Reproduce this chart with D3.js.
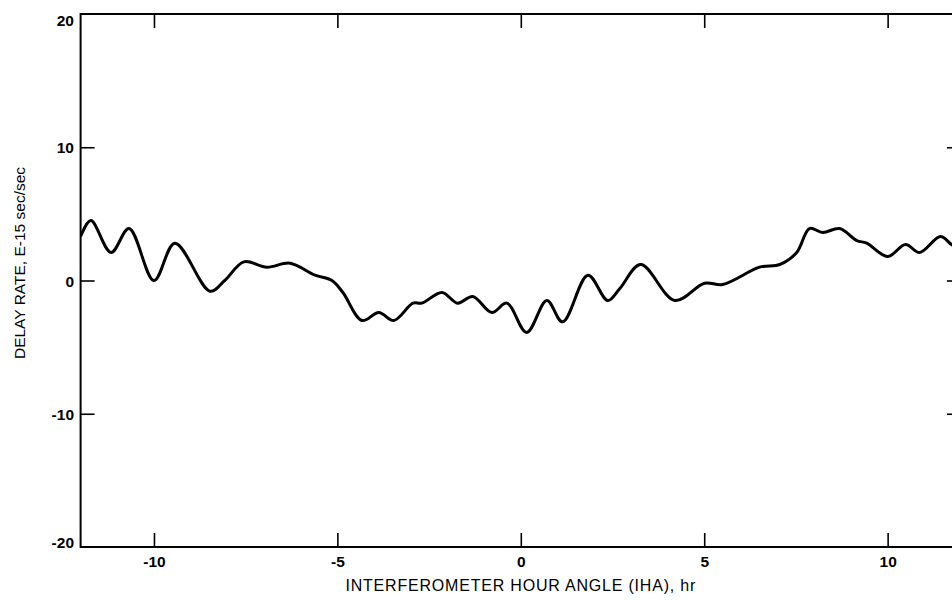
<!DOCTYPE html>
<html>
<head>
<meta charset="utf-8">
<script src="https://cdn.jsdelivr.net/npm/d3@7"></script>
<style>
  html, body { margin: 0; padding: 0; background: #fff; }
  svg { display: block; }
  text { font-family: "Liberation Sans", Arial, sans-serif; fill: #000; }
</style>
</head>
<body>
<svg id="chart" width="952" height="600"></svg>
<script>
// Interferometer hour angle (hr)
const hourAngle = [-12.0, -11.72, -11.17, -10.68, -10.0, -9.43, -8.47, -8.07, -7.55, -6.92, -6.29, -5.61,
  -5.15, -4.85, -4.33, -3.87, -3.46, -2.94, -2.70, -2.15, -1.72, -1.31, -0.79, -0.38,
  0.16, 0.71, 1.14, 1.83, 2.37, 2.70, 3.27, 4.20, 5.01, 5.50, 6.51, 7.06,
  7.52, 7.87, 8.23, 8.69, 9.16, 9.43, 10.0, 10.49, 10.87, 11.44, 11.74, 12.0];
// Delay rate (E-15 sec/sec)
const delayRate = [3.3, 4.5, 2.1, 3.9, 0.0, 2.8, -0.8, 0.0, 1.4, 1.0, 1.3, 0.4,
  0.0, -0.9, -3.0, -2.4, -3.0, -1.7, -1.7, -0.9, -1.7, -1.2, -2.4, -1.7,
  -3.9, -1.5, -3.1, 0.4, -1.5, -0.6, 1.2, -1.5, -0.2, -0.3, 1.0, 1.2,
  2.1, 3.9, 3.6, 3.9, 3.0, 2.8, 1.8, 2.7, 2.1, 3.3, 2.7, 2.3];
const xTicks = [-10, -5, 0, 5, 10];
const yTickLabels = [20, 10, 0, -10, -20];
const ySideTicks = [10, 0, -10];
const xTitle = "INTERFEROMETER HOUR ANGLE (IHA), hr";
const yTitle = "DELAY RATE, E-15 sec/sec";

const svg = d3.select("#chart");
const x = d3.scaleLinear().domain([-12, 12]).range([80.6, 961]);
const y = d3.scaleLinear().domain([-20, 20]).range([547, 14]);
const tickLen = 14;
const fmt = d => String(d); // plain hyphen minus, as in the original

// Clip for the curve
svg.append("defs").append("clipPath").attr("id", "clip")
  .append("rect").attr("x", x(-12)).attr("y", y(20)).attr("width", x(12) - x(-12)).attr("height", y(-20) - y(20));

// Frame
svg.append("rect")
  .attr("x", x(-12)).attr("y", y(20))
  .attr("width", x(12) - x(-12)).attr("height", y(-20) - y(20))
  .attr("fill", "none").attr("stroke", "#000").attr("stroke-width", 2);

// Bottom & top ticks (inward)
const bottomAxis = d3.axisBottom(x).tickValues(xTicks).tickSize(-tickLen).tickFormat(fmt);
const gb = svg.append("g").attr("transform", `translate(0,${y(-20)})`).call(bottomAxis);
const topAxis = d3.axisTop(x).tickValues(xTicks).tickSize(-tickLen).tickFormat("");
const gt = svg.append("g").attr("transform", `translate(0,${y(20)})`).call(topAxis);

// Left & right ticks (inward)
const leftAxis = d3.axisLeft(y).tickValues(ySideTicks).tickSize(-tickLen).tickFormat("");
const gl = svg.append("g").attr("transform", `translate(${x(-12)},0)`).call(leftAxis);
const rightAxis = d3.axisRight(y).tickValues(ySideTicks).tickSize(-tickLen).tickFormat("");
const gr = svg.append("g").attr("transform", `translate(${x(12)},0)`).call(rightAxis);

[gb, gt, gl, gr].forEach(g => {
  g.select(".domain").remove();
  g.selectAll(".tick line").attr("stroke", "#000").attr("stroke-width", 1.6);
});
gb.selectAll(".tick text")
  .attr("font-size", 15.5).attr("font-weight", "bold")
  .attr("font-family", "'Liberation Sans', Arial, sans-serif")
  .attr("y", 9).attr("dy", "0.71em");

// Y tick labels
svg.append("g").selectAll("text").data(yTickLabels).join("text")
  .attr("x", 74)
  .attr("y", d => y(d) + (d === 20 ? 12 : d === -20 ? 1 : 6))
  .attr("text-anchor", "end")
  .attr("font-size", 15.5).attr("font-weight", "bold")
  .text(fmt);

// Curve
const line = d3.line()
  .x((d, i) => x(hourAngle[i]))
  .y(d => y(d))
  .curve(d3.curveCatmullRom.alpha(0.5));
svg.append("path")
  .datum(delayRate)
  .attr("clip-path", "url(#clip)")
  .attr("d", line)
  .attr("fill", "none").attr("stroke", "#000").attr("stroke-width", 3)
  .attr("stroke-linejoin", "round");

// Titles
svg.append("text")
  .attr("x", x(0)).attr("y", 591)
  .attr("text-anchor", "middle").attr("font-size", 16)
  .attr("letter-spacing", "0.8px")
  .text(xTitle);
svg.append("text")
  .attr("transform", `translate(25,${263}) rotate(-90)`)
  .attr("text-anchor", "middle").attr("font-size", 15.5)
  .text(yTitle);
</script>
</body>
</html>
